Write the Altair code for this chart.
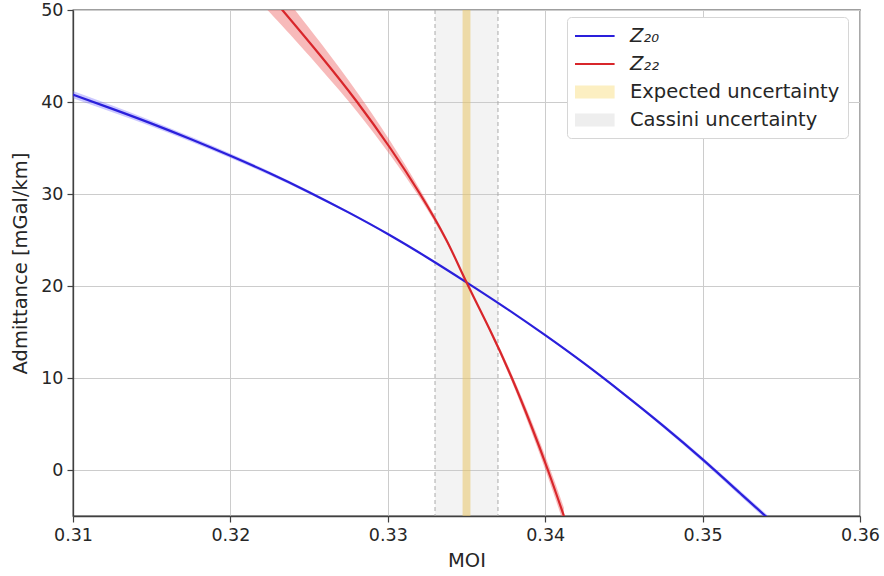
import altair as alt
import pandas as pd

# ---------------- data ----------------
blue_x = [0.310, 0.3125, 0.315, 0.3175, 0.320, 0.3225, 0.325, 0.3275, 0.330, 0.3325,
          0.335, 0.3375, 0.340, 0.3425, 0.345, 0.3475, 0.350, 0.3525, 0.355]
blue_y = [40.8, 39.25, 37.65, 35.95, 34.15, 32.25, 30.2, 28.0, 25.65, 23.1,
          20.4, 17.6, 14.65, 11.55, 8.25, 4.8, 1.15, -2.7, -6.55]
blue_half = [0.40, 0.36, 0.32, 0.28, 0.24, 0.20, 0.16, 0.12, 0.08, 0.04,
             0.0, 0.04, 0.08, 0.12, 0.16, 0.20, 0.24, 0.28, 0.32]

red_x = [0.3223, 0.3233, 0.32574, 0.32805, 0.33015, 0.33205, 0.33372, 0.3350,
         0.33655, 0.33788, 0.33907, 0.34017, 0.34119]
red_y = [52.0, 50.0, 45.0, 40.0, 35.0, 30.0, 25.0, 20.4,
         15.0, 10.0, 5.0, 0.0, -5.0]
red_half = [1.9, 1.75, 1.4, 1.05, 0.75, 0.47, 0.25, 0.0,
            0.22, 0.42, 0.6, 0.75, 0.9]

cassini_band = [0.333, 0.337]
expected_band = [0.33475, 0.33525]

x_ticks = [0.31, 0.32, 0.33, 0.34, 0.35, 0.36]
y_ticks = [0, 10, 20, 30, 40, 50]

legend_names = ["Z\u2082\u2080", "Z\u2082\u2082", "Expected uncertainty", "Cassini uncertainty"]
legend_colors = ["#2a1fdb", "#d8262b", "#fcefc2", "#eeeeee"]

# ---------------- tables ----------------
df_blue = pd.DataFrame({
    "moi": blue_x, "adm": blue_y,
    "lo": [y - h for y, h in zip(blue_y, blue_half)],
    "hi": [y + h for y, h in zip(blue_y, blue_half)],
})
df_red = pd.DataFrame({
    "moi": red_x, "adm": red_y,
    "lo": [y - h for y, h in zip(red_y, red_half)],
    "hi": [y + h for y, h in zip(red_y, red_half)],
})
df_cassini = pd.DataFrame({"x1": [cassini_band[0]], "x2": [cassini_band[1]]})
df_cassini_edges = pd.DataFrame({"x": cassini_band})
df_expected = pd.DataFrame({"x1": [expected_band[0]], "x2": [expected_band[1]]})
df_legend = pd.DataFrame({"name": legend_names})

FONT = "DejaVu Sans"
W, H = 787, 506

xscale = alt.Scale(domain=[0.31, 0.36], nice=False, zero=False)
yscale = alt.Scale(domain=[-5, 50], nice=False, zero=False)

xaxis = alt.Axis(values=x_ticks, format=".2f", title="MOI", grid=True, labelFlush=False)
yaxis = alt.Axis(values=y_ticks, format="d", title="Admittance [mGal/km]", grid=True,
                 labelFlush=False)

cassini = alt.Chart(df_cassini).mark_rect(color="#c8c8c8", opacity=0.22).encode(
    x=alt.X("x1:Q", scale=xscale, axis=xaxis),
    x2="x2:Q",
    y=alt.value(0),
    y2=alt.value(H),
)
cassini_edges = alt.Chart(df_cassini_edges).mark_rule(
    color="#aaaaaa", strokeWidth=1, strokeDash=[4, 3]
).encode(x=alt.X("x:Q", scale=xscale))

expected = alt.Chart(df_expected).mark_rect(color="#e8c468", opacity=0.55).encode(
    x=alt.X("x1:Q", scale=xscale),
    x2="x2:Q",
    y=alt.value(0),
    y2=alt.value(H),
)

blue_band = alt.Chart(df_blue).mark_area(
    color="#6a60ff", opacity=0.35, interpolate="natural", clip=True
).encode(
    x=alt.X("moi:Q", scale=xscale),
    y=alt.Y("lo:Q", scale=yscale, axis=yaxis),
    y2="hi:Q",
)
blue_line = alt.Chart(df_blue).mark_line(
    color="#2a1fdb", strokeWidth=2.2, interpolate="natural", clip=True
).encode(
    x=alt.X("moi:Q", scale=xscale),
    y=alt.Y("adm:Q", scale=yscale),
)

red_band = alt.Chart(df_red).mark_area(
    color="#ee6666", opacity=0.45, interpolate="natural", clip=True
).encode(
    x=alt.X("moi:Q", scale=xscale),
    y=alt.Y("lo:Q", scale=yscale),
    y2="hi:Q",
)
red_line = alt.Chart(df_red).mark_line(
    color="#d8262b", strokeWidth=2.2, interpolate="natural", clip=True
).encode(
    x=alt.X("moi:Q", scale=xscale),
    y=alt.Y("adm:Q", scale=yscale),
)

line_path = "M-1,-0.1H2.6V0.1H-1Z"
patch_path = "M-1,-0.6H2.6V0.6H-1Z"
legend_props = dict(
    title=None,
    orient="none",
    legendX=494,
    legendY=7,
    symbolSize=484,
    symbolOpacity=1,
    symbolStrokeWidth=0,
    labelFont=FONT,
    labelFontSize=19.5,
    labelColor="#262626",
    labelOffset=33,
    labelLimit=400,
    rowPadding=7,
    padding=8,
    fillColor="#ffffff",
    strokeColor="#d6d6d6",
    cornerRadius=4,
    labelFontStyle=alt.ExprRef("datum.index < 2 ? 'italic' : 'normal'"),
)
legend_layer = alt.Chart(df_legend).mark_point(filled=True, opacity=0, size=484).encode(
    color=alt.Color("name:N", scale=alt.Scale(domain=legend_names, range=legend_colors),
                    legend=alt.Legend(**legend_props), sort=legend_names),
    shape=alt.Shape("name:N", scale=alt.Scale(domain=legend_names,
                                              range=[line_path, line_path, patch_path, patch_path]),
                    legend=alt.Legend(**legend_props), sort=legend_names),
)

chart = alt.layer(
    cassini, cassini_edges, expected, blue_band, red_band, blue_line, red_line, legend_layer
).properties(
    width=W,
    height=H,
    padding={"left": 73, "top": 10, "right": 24, "bottom": 60},
    autosize=alt.AutoSizeParams(type="none"),
).configure_view(
    stroke="#404040", strokeWidth=1.3
).configure_axis(
    labelFont=FONT,
    labelFontSize=17.5,
    labelColor="#262626",
    titleFont=FONT,
    titleFontSize=19.5,
    titleFontWeight="normal",
    titleColor="#262626",
    gridColor="#cccccc",
    gridWidth=1,
    domainColor="#404040",
    domainWidth=1.3,
    tickColor="#404040",
    tickSize=6,
    tickWidth=1.2,
    labelPadding=4,
).configure_axisX(
    titlePadding=8,
).configure_axisY(
    titlePadding=10,
)

chart.save("out.html", embed_options={"renderer": "svg", "actions": False})
